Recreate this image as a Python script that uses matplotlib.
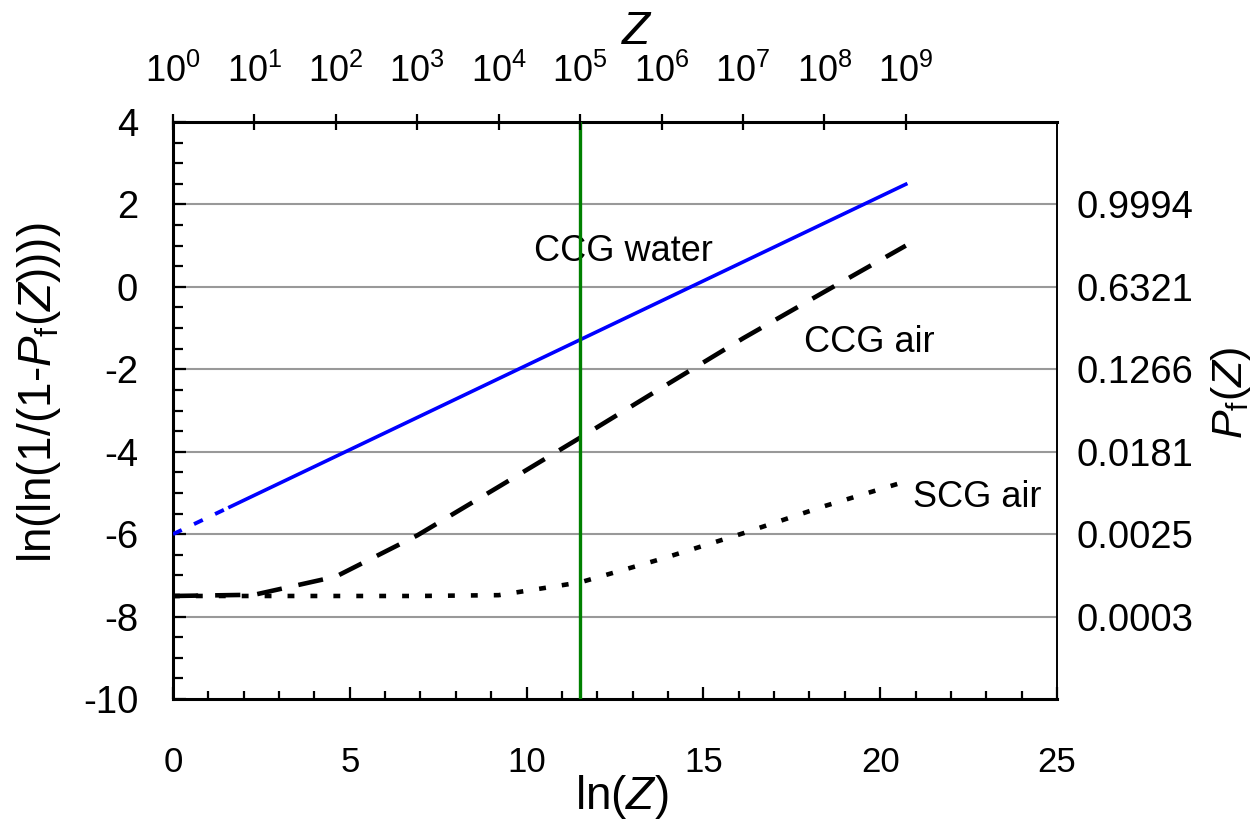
"""Weibull-type plot of failure probability Pf(Z) against ln(Z) for CCG / SCG samples."""

import matplotlib.pyplot as plt
import numpy as np

plt.rcParams["font.family"] = ["Liberation Sans", "DejaVu Sans"]
plt.rcParams["mathtext.fontset"] = "custom"
plt.rcParams["mathtext.rm"] = "Liberation Sans"
plt.rcParams["mathtext.it"] = "Liberation Sans:italic"
plt.rcParams["axes.unicode_minus"] = False

# Z values the curves were evaluated at (one per decade)
z_points = [1e0, 1e1, 1e2, 1e3, 1e4, 1e5, 1e6, 1e7, 1e8, 1e9]
ccg_air = [-7.50, -7.47, -7.03, -6.03, -4.85, -3.66, -2.45, -1.25, -0.12, 1.00]
scg_air = [-7.50, -7.50, -7.50, -7.50, -7.48, -7.17, -6.60, -5.98, -5.32, -4.72]

# CCG water: fitted line, extrapolated part below Z = 5
water_z = [5, 1e9]
water_y = [-5.34, 2.49]
water_extrap_z = [1, 5]
water_extrap_y = [-6.0, -5.34]

z_cut = 1e5

grid_levels = [2, 0, -2, -4, -6, -8]
pf_labels = ["0.9994", "0.6321", "0.1266", "0.0181", "0.0025", "0.0003"]
top_exponents = [0, 1, 2, 3, 4, 5, 6, 7, 8, 9]

Y_TICK_FS = 27.5
X_TICK_FS = 25
TOP_TICK_FS = 26
NOTE_FS = 26
LABEL_FS = 33


def main() -> None:
    fig = plt.figure(figsize=(12.57, 8.19), dpi=100)
    ax = fig.add_axes([0.1376, 0.1465, 0.7033, 0.7045])

    for lvl in grid_levels:
        ax.axhline(lvl, color="#999999", linewidth=1.5, zorder=1)

    ax.plot(np.log(water_extrap_z), water_extrap_y, color="blue", linewidth=2.8,
            dashes=(2.5, 3.5), zorder=3)
    ax.plot(np.log(water_z), water_y, color="blue", linewidth=2.6, zorder=3)
    ax.plot(np.log(z_points), ccg_air, color="black", linewidth=3.3,
            dashes=(5.5, 3.7), zorder=3)
    ax.plot(np.log(z_points), scg_air, color="black", linewidth=3.3,
            dashes=(1.5, 3.5), zorder=3)
    ax.axvline(np.log(z_cut), color="#008000", linewidth=2.4, zorder=4)

    ax.text(12.73, 0.85, "CCG water", ha="center", va="center", fontsize=NOTE_FS)
    ax.text(19.68, -1.36, "CCG air", ha="center", va="center", fontsize=NOTE_FS)
    ax.text(22.74, -5.10, "SCG air", ha="center", va="center", fontsize=NOTE_FS)

    ax.set_xlim(0, 25)
    ax.set_ylim(-10, 4)
    ax.set_xticks(np.arange(0, 26, 5))
    ax.set_xticks(np.arange(0, 26, 1), minor=True)
    ax.set_yticks(np.arange(-10, 5, 2))
    ax.set_yticks(np.arange(-10, 4.1, 0.5), minor=True)
    ax.tick_params(which="both", direction="in", width=1.6)
    ax.tick_params(axis="x", which="major", length=9, pad=34, labelsize=X_TICK_FS)
    ax.tick_params(axis="x", which="minor", length=6)
    ax.tick_params(axis="y", which="major", length=9.5, pad=25, labelsize=Y_TICK_FS)
    ax.tick_params(axis="y", which="minor", length=7)

    ax.set_xlabel("ln($Z$)", fontsize=LABEL_FS, va="center")
    ax.xaxis.set_label_coords(0.508, -0.170)
    ax.set_ylabel("ln(ln(1/(1-$P_{\\mathrm{f}}$($Z$))))", fontsize=LABEL_FS,
                  va="center", ha="center")
    ax.yaxis.set_label_coords(-0.152, 0.530)

    for side in ["left", "bottom", "top"]:
        ax.spines[side].set_linewidth(2.2)
    ax.spines["right"].set_linewidth(1.4)

    # right axis: failure probability at the gridline levels
    ax_r = ax.twinx()
    ax_r.set_ylim(-10, 4)
    ax_r.set_yticks(grid_levels, pf_labels)
    ax_r.tick_params(axis="y", length=0, pad=14, labelsize=Y_TICK_FS)
    ax_r.set_ylabel("$P_{\\mathrm{f}}$($Z$)", fontsize=31, va="center", ha="center")
    ax_r.yaxis.set_label_coords(1.197, 0.530)

    # top axis: Z in decades
    ax_t = ax.twiny()
    ax_t.set_xlim(0, 25)
    ax_t.set_xticks(np.log(10.0 ** np.array(top_exponents)),
                    ["$\\mathregular{10^{%d}}$" % e for e in top_exponents])
    ax_t.tick_params(axis="x", direction="inout", length=11.5, width=1.6,
                     pad=17, labelsize=TOP_TICK_FS)
    ax_t.set_xlabel("$Z$", fontsize=LABEL_FS, va="center")
    ax_t.xaxis.set_label_coords(0.525, 1.156)

    for twin in (ax_r, ax_t):
        for sp in twin.spines.values():
            sp.set_visible(False)

    fig.savefig("out.png", dpi=100)
    plt.close(fig)


if __name__ == "__main__":
    main()
